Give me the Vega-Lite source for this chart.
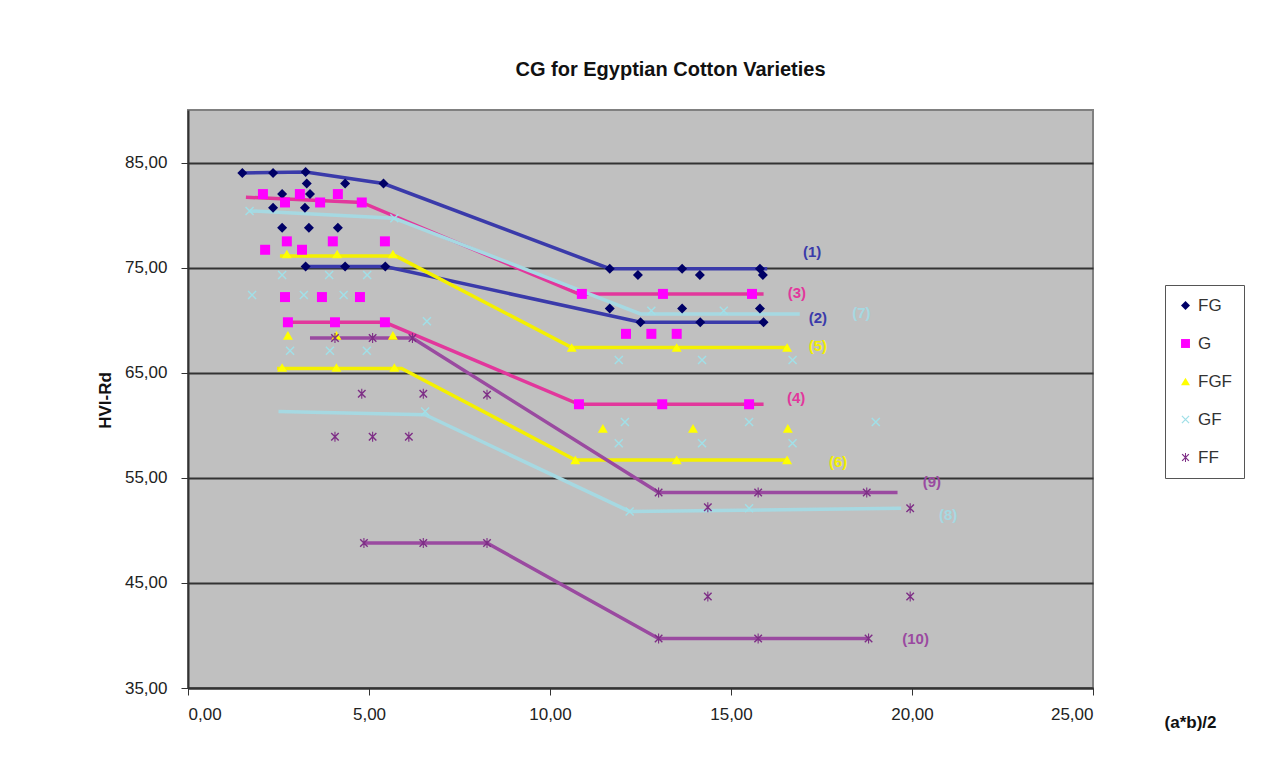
{
  "$schema": "https://vega.github.io/schema/vega-lite/v6.json",
  "autosize": "none",
  "width": 905,
  "height": 578,
  "padding": {"left": 188, "top": 110, "right": 195, "bottom": 85},
  "background": "white",
  "config": {
    "font": "Liberation Sans",
    "locale": {"number": {"decimal": ",", "thousands": ".", "grouping": [3], "currency": ["", ""]}},
    "view": {"fill": "#c0c0c0", "stroke": "#808080", "strokeWidth": 2}
  },
  "title": {
    "text": "CG for Egyptian Cotton Varieties",
    "fontSize": 20,
    "fontWeight": "bold",
    "color": "#111",
    "anchor": "middle",
    "dx": 30,
    "offset": 30
  },
  "resolve": {"scale": {"color": "independent"}, "legend": {"color": "independent"}},
  "datasets": {
    "pts": [
      {"s": "FG", "x": 2.6, "y": 82.0}, {"s": "FG", "x": 3.37, "y": 82.0}, {"s": "FG", "x": 3.28, "y": 83.0}, {"s": "FG", "x": 4.34, "y": 83.0},
      {"s": "FG", "x": 2.35, "y": 80.7}, {"s": "FG", "x": 3.23, "y": 80.7}, {"s": "FG", "x": 2.6, "y": 78.8}, {"s": "FG", "x": 3.34, "y": 78.8}, {"s": "FG", "x": 4.14, "y": 78.8},
      {"s": "FG", "x": 1.5, "y": 84.0}, {"s": "FG", "x": 2.35, "y": 84.0}, {"s": "FG", "x": 3.25, "y": 84.1}, {"s": "FG", "x": 5.4, "y": 83.0},
      {"s": "FG", "x": 11.65, "y": 74.9}, {"s": "FG", "x": 13.65, "y": 74.9}, {"s": "FG", "x": 15.8, "y": 74.9},
      {"s": "FG", "x": 3.25, "y": 75.1}, {"s": "FG", "x": 4.34, "y": 75.1}, {"s": "FG", "x": 5.45, "y": 75.1},
      {"s": "FG", "x": 12.5, "y": 69.8}, {"s": "FG", "x": 14.15, "y": 69.8}, {"s": "FG", "x": 15.9, "y": 69.8},
      {"s": "FG", "x": 12.43, "y": 74.3}, {"s": "FG", "x": 14.14, "y": 74.3}, {"s": "FG", "x": 15.88, "y": 74.3},
      {"s": "FG", "x": 11.65, "y": 71.1}, {"s": "FG", "x": 13.65, "y": 71.1}, {"s": "FG", "x": 15.8, "y": 71.1},
      {"s": "G", "x": 2.07, "y": 82.0}, {"s": "G", "x": 3.09, "y": 82.0}, {"s": "G", "x": 4.14, "y": 82.0},
      {"s": "G", "x": 2.68, "y": 81.2}, {"s": "G", "x": 3.65, "y": 81.2}, {"s": "G", "x": 4.8, "y": 81.2},
      {"s": "G", "x": 2.13, "y": 76.7}, {"s": "G", "x": 2.73, "y": 77.5}, {"s": "G", "x": 3.15, "y": 76.7}, {"s": "G", "x": 4.0, "y": 77.5}, {"s": "G", "x": 5.44, "y": 77.5},
      {"s": "G", "x": 2.68, "y": 72.2}, {"s": "G", "x": 3.7, "y": 72.2}, {"s": "G", "x": 4.75, "y": 72.2},
      {"s": "G", "x": 2.76, "y": 69.8}, {"s": "G", "x": 4.06, "y": 69.8}, {"s": "G", "x": 5.44, "y": 69.8},
      {"s": "G", "x": 10.88, "y": 72.5}, {"s": "G", "x": 13.12, "y": 72.5}, {"s": "G", "x": 15.58, "y": 72.5},
      {"s": "G", "x": 12.1, "y": 68.7}, {"s": "G", "x": 12.8, "y": 68.7}, {"s": "G", "x": 13.5, "y": 68.7},
      {"s": "G", "x": 10.8, "y": 62.0}, {"s": "G", "x": 13.1, "y": 62.0}, {"s": "G", "x": 15.5, "y": 62.0},
      {"s": "FGF", "x": 2.73, "y": 76.3}, {"s": "FGF", "x": 4.12, "y": 76.3}, {"s": "FGF", "x": 5.66, "y": 76.3},
      {"s": "FGF", "x": 2.76, "y": 68.55}, {"s": "FGF", "x": 4.1, "y": 68.55}, {"s": "FGF", "x": 5.66, "y": 68.55},
      {"s": "FGF", "x": 2.6, "y": 65.5}, {"s": "FGF", "x": 4.1, "y": 65.5}, {"s": "FGF", "x": 5.7, "y": 65.5},
      {"s": "FGF", "x": 10.6, "y": 67.4}, {"s": "FGF", "x": 13.5, "y": 67.4}, {"s": "FGF", "x": 16.55, "y": 67.4},
      {"s": "FGF", "x": 11.46, "y": 59.7}, {"s": "FGF", "x": 13.95, "y": 59.7}, {"s": "FGF", "x": 16.57, "y": 59.7},
      {"s": "FGF", "x": 10.7, "y": 56.7}, {"s": "FGF", "x": 13.5, "y": 56.7}, {"s": "FGF", "x": 16.55, "y": 56.7},
      {"s": "GF", "x": 1.77, "y": 72.4}, {"s": "GF", "x": 3.2, "y": 72.4}, {"s": "GF", "x": 4.3, "y": 72.4},
      {"s": "GF", "x": 2.82, "y": 67.1}, {"s": "GF", "x": 3.92, "y": 67.1}, {"s": "GF", "x": 4.94, "y": 67.1},
      {"s": "GF", "x": 2.6, "y": 74.3}, {"s": "GF", "x": 3.9, "y": 74.3}, {"s": "GF", "x": 4.95, "y": 74.3},
      {"s": "GF", "x": 6.6, "y": 69.9}, {"s": "GF", "x": 1.7, "y": 80.4}, {"s": "GF", "x": 5.7, "y": 79.7},
      {"s": "GF", "x": 11.9, "y": 66.2}, {"s": "GF", "x": 14.2, "y": 66.2}, {"s": "GF", "x": 16.7, "y": 66.2},
      {"s": "GF", "x": 12.8, "y": 70.9}, {"s": "GF", "x": 14.8, "y": 70.9},
      {"s": "GF", "x": 12.07, "y": 60.3}, {"s": "GF", "x": 15.5, "y": 60.3}, {"s": "GF", "x": 19.0, "y": 60.3},
      {"s": "GF", "x": 11.9, "y": 58.3}, {"s": "GF", "x": 14.2, "y": 58.3}, {"s": "GF", "x": 16.7, "y": 58.3},
      {"s": "GF", "x": 6.55, "y": 61.3}, {"s": "GF", "x": 12.2, "y": 51.8}, {"s": "GF", "x": 15.5, "y": 52.1},
      {"s": "FF", "x": 4.8, "y": 63.0}, {"s": "FF", "x": 6.5, "y": 63.0}, {"s": "FF", "x": 8.26, "y": 62.9},
      {"s": "FF", "x": 4.06, "y": 58.9}, {"s": "FF", "x": 5.1, "y": 58.9}, {"s": "FF", "x": 6.1, "y": 58.9},
      {"s": "FF", "x": 4.06, "y": 68.3}, {"s": "FF", "x": 5.1, "y": 68.3}, {"s": "FF", "x": 6.2, "y": 68.3},
      {"s": "FF", "x": 13.0, "y": 53.6}, {"s": "FF", "x": 15.75, "y": 53.6}, {"s": "FF", "x": 18.75, "y": 53.6},
      {"s": "FF", "x": 14.36, "y": 52.2}, {"s": "FF", "x": 19.95, "y": 52.1},
      {"s": "FF", "x": 14.36, "y": 43.7}, {"s": "FF", "x": 19.95, "y": 43.7},
      {"s": "FF", "x": 4.86, "y": 48.8}, {"s": "FF", "x": 6.5, "y": 48.8}, {"s": "FF", "x": 8.26, "y": 48.8},
      {"s": "FF", "x": 13.0, "y": 39.7}, {"s": "FF", "x": 15.75, "y": 39.7}, {"s": "FF", "x": 18.8, "y": 39.7}
    ],
    "lines": [
      {"line": "(1)", "g": "FG", "o": 1, "x": 1.5, "y": 84.0}, {"line": "(1)", "g": "FG", "o": 2, "x": 3.25, "y": 84.1}, {"line": "(1)", "g": "FG", "o": 3, "x": 5.4, "y": 83.0}, {"line": "(1)", "g": "FG", "o": 4, "x": 11.65, "y": 74.9}, {"line": "(1)", "g": "FG", "o": 5, "x": 16.0, "y": 74.9},
      {"line": "(2)", "g": "FG", "o": 1, "x": 3.25, "y": 75.1}, {"line": "(2)", "g": "FG", "o": 2, "x": 5.45, "y": 75.1}, {"line": "(2)", "g": "FG", "o": 3, "x": 12.5, "y": 69.8}, {"line": "(2)", "g": "FG", "o": 4, "x": 15.95, "y": 69.8},
      {"line": "(3)", "g": "G", "o": 1, "x": 1.6, "y": 81.7}, {"line": "(3)", "g": "G", "o": 2, "x": 4.8, "y": 81.2}, {"line": "(3)", "g": "G", "o": 3, "x": 10.8, "y": 72.5}, {"line": "(3)", "g": "G", "o": 4, "x": 15.9, "y": 72.5},
      {"line": "(4)", "g": "G", "o": 1, "x": 2.76, "y": 69.8}, {"line": "(4)", "g": "G", "o": 2, "x": 5.44, "y": 69.8}, {"line": "(4)", "g": "G", "o": 3, "x": 10.8, "y": 62.0}, {"line": "(4)", "g": "G", "o": 4, "x": 15.9, "y": 62.0},
      {"line": "(5)", "g": "FGF", "o": 1, "x": 2.54, "y": 76.1}, {"line": "(5)", "g": "FGF", "o": 2, "x": 5.75, "y": 76.1}, {"line": "(5)", "g": "FGF", "o": 3, "x": 10.6, "y": 67.4}, {"line": "(5)", "g": "FGF", "o": 4, "x": 16.6, "y": 67.4},
      {"line": "(6)", "g": "FGF", "o": 1, "x": 2.46, "y": 65.4}, {"line": "(6)", "g": "FGF", "o": 2, "x": 5.9, "y": 65.4}, {"line": "(6)", "g": "FGF", "o": 3, "x": 10.7, "y": 56.7}, {"line": "(6)", "g": "FGF", "o": 4, "x": 16.6, "y": 56.7},
      {"line": "(7)", "g": "GF", "o": 1, "x": 1.7, "y": 80.4}, {"line": "(7)", "g": "GF", "o": 2, "x": 5.7, "y": 79.7}, {"line": "(7)", "g": "GF", "o": 3, "x": 12.5, "y": 70.6}, {"line": "(7)", "g": "GF", "o": 4, "x": 16.9, "y": 70.6},
      {"line": "(8)", "g": "GF", "o": 1, "x": 2.5, "y": 61.3}, {"line": "(8)", "g": "GF", "o": 2, "x": 6.55, "y": 61.0}, {"line": "(8)", "g": "GF", "o": 3, "x": 12.2, "y": 51.8}, {"line": "(8)", "g": "GF", "o": 4, "x": 19.7, "y": 52.1},
      {"line": "(9)", "g": "FF", "o": 1, "x": 3.37, "y": 68.3}, {"line": "(9)", "g": "FF", "o": 2, "x": 6.2, "y": 68.3}, {"line": "(9)", "g": "FF", "o": 3, "x": 13.0, "y": 53.6}, {"line": "(9)", "g": "FF", "o": 4, "x": 19.6, "y": 53.6},
      {"line": "(10)", "g": "FF", "o": 1, "x": 4.86, "y": 48.8}, {"line": "(10)", "g": "FF", "o": 2, "x": 8.26, "y": 48.8}, {"line": "(10)", "g": "FF", "o": 3, "x": 13.0, "y": 39.7}, {"line": "(10)", "g": "FF", "o": 4, "x": 18.8, "y": 39.7}
    ],
    "labels": [
      {"line": "(1)", "g": "FG", "x": 17.24, "y": 76.45},
      {"line": "(3)", "g": "G", "x": 16.82, "y": 72.55},
      {"line": "(2)", "g": "FG", "x": 17.4, "y": 70.2},
      {"line": "(7)", "g": "GF", "x": 18.6, "y": 70.7},
      {"line": "(5)", "g": "FGF", "x": 17.4, "y": 67.5},
      {"line": "(4)", "g": "G", "x": 16.8, "y": 62.6},
      {"line": "(6)", "g": "FGF", "x": 17.96, "y": 56.5},
      {"line": "(9)", "g": "FF", "x": 20.55, "y": 54.6},
      {"line": "(8)", "g": "GF", "x": 21.0, "y": 51.5},
      {"line": "(10)", "g": "FF", "x": 20.1, "y": 39.7}
    ]
  },
  "encoding": {
    "x": {
      "field": "x", "type": "quantitative",
      "scale": {"domain": [0, 25], "nice": false, "zero": false},
      "axis": {
        "title": "(a*b)/2", "titleFontSize": 17, "titleFontWeight": "bold", "titleColor": "#111",
        "titleX": 1002, "titleY": 34, "titleAlign": "center", "titleBaseline": "middle", "titleAngle": 0,
        "values": [0, 5, 10, 15, 20, 25], "format": ".2f", "grid": false,
        "labelFontSize": 17, "labelColor": "#222", "labelPadding": 11, "tickSize": 7,
        "tickColor": "#333", "domainColor": "#333", "domainWidth": 2
      }
    },
    "y": {
      "field": "y", "type": "quantitative",
      "scale": {"domain": [35, 90], "nice": false, "zero": false},
      "axis": {
        "title": "HVI-Rd", "titleFontSize": 17, "titleFontWeight": "bold", "titleColor": "#111",
        "titleX": -83, "titleY": 290, "titleAngle": -90, "titleAlign": "center", "titleBaseline": "middle",
        "values": [35, 45, 55, 65, 75, 85], "format": ".2f",
        "grid": true, "gridColor": "#333", "gridWidth": 2, "gridOpacity": 1,
        "labelFontSize": 17, "labelColor": "#222", "labelPadding": 14, "tickSize": 7,
        "tickColor": "#333", "domainColor": "#333", "domainWidth": 2
      }
    }
  },
  "layer": [
    {
      "layer": [
        {
          "data": {"name": "lines"},
          "mark": {"type": "line", "strokeWidth": 3.5},
          "encoding": {
            "detail": {"field": "line", "type": "nominal"},
            "order": {"field": "o", "type": "quantitative"},
            "color": {
              "field": "g", "type": "nominal", "legend": null,
              "scale": {"domain": ["FG", "G", "FGF", "GF", "FF"], "range": ["#3a3aaa", "#e2379c", "#f4f000", "#a6d9e2", "#9a4aa0"]}
            }
          }
        },
        {
          "data": {"name": "labels"},
          "mark": {"type": "text", "fontSize": 15, "fontWeight": "bold", "align": "center", "baseline": "middle"},
          "encoding": {
            "text": {"field": "line", "type": "nominal"},
            "color": {"field": "g", "type": "nominal", "legend": null}
          }
        }
      ]
    },
    {
      "data": {"name": "pts"},
      "mark": {"type": "point", "filled": true, "size": 100, "opacity": 1},
      "encoding": {
        "color": {
          "field": "s", "type": "nominal",
          "scale": {"domain": ["FG", "G", "FGF", "GF", "FF"], "range": ["#000066", "#ff00ff", "#ffff00", "#a0e0e8", "#7e2e86"]},
          "legend": {
            "title": null, "orient": "none", "legendX": 977, "legendY": 175,
            "fillColor": "white", "strokeColor": "#555", "padding": 12,
            "labelFontSize": 17, "labelColor": "#333", "rowPadding": 20, "symbolSize": 80, "symbolOpacity": 1,
            "labelOffset": 4,
            "encode": {"symbols": {"update": {"shape": {"scale": "shape", "field": "value"}}}}
          }
        },
        "shape": {
          "field": "s", "type": "nominal", "legend": null,
          "scale": {"domain": ["FG", "G", "FGF", "GF", "FF"], "range": [
            "diamond", "square", "triangle-up",
            "M-0.9,-0.7L-0.7,-0.9L0.9,0.7L0.7,0.9ZM0.7,-0.9L0.9,-0.7L-0.7,0.9L-0.9,0.7Z",
            "M-0.85,-0.65L-0.65,-0.85L0.85,0.65L0.65,0.85ZM0.65,-0.85L0.85,-0.65L-0.65,0.85L-0.85,0.65ZM-0.11,-1L0.11,-1L0.11,1L-0.11,1Z"
          ]}
        }
      }
    }
  ]
}
